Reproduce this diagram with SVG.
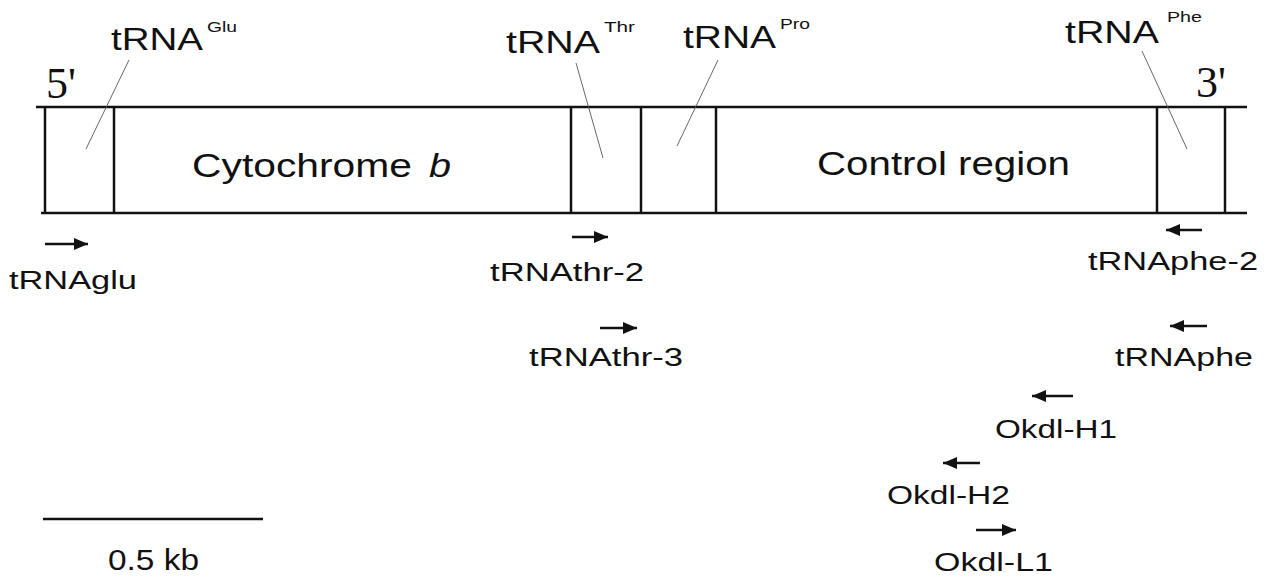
<svg xmlns="http://www.w3.org/2000/svg" width="1270" height="580" viewBox="0 0 1270 580">
<style>
.strand{stroke:#111;stroke-width:2.5;fill:none}
.div{stroke:#111;stroke-width:2.5}
.leader{stroke:#555;stroke-width:0.9;fill:none}
.prim{stroke:#111;stroke-width:2.5;fill:none;marker-end:url(#ah)}
.lab{font-family:"Liberation Sans",Arial,Helvetica,sans-serif;fill:#111}
.big{font-size:32px}
.sup{font-size:15px}
.gene{font-size:33px}
.pl{font-size:26px}
.end{font-family:"Liberation Serif","Times New Roman",serif;font-size:44px;fill:#111}
</style>
<defs>
<marker id="ah" markerUnits="userSpaceOnUse" markerWidth="16" markerHeight="14" refX="14" refY="6.5" orient="auto">
<path d="M0,0.5 L14,6.5 L0,12.5 Z" fill="#111"/>
</marker>
</defs>
<rect width="1270" height="580" fill="#fff"/>

<g id="strand">
<line class="strand" x1="36" y1="107" x2="1247" y2="107"/>
<line class="strand" x1="41" y1="213" x2="1247" y2="213"/>
<text class="end" x="46" y="98">5'</text>
<text class="end" x="1196" y="97">3'</text>
</g>

<g id="tRNA-Glu">
<line class="div" x1="45" y1="107" x2="45" y2="213"/>
<line class="div" x1="114" y1="107" x2="114" y2="213"/>
<text class="lab big" x="111" y="50" textLength="92" lengthAdjust="spacingAndGlyphs">tRNA</text>
<text class="lab sup" x="207" y="32" textLength="30" lengthAdjust="spacingAndGlyphs">Glu</text>
</g>

<g id="cytochrome-b">
<text class="lab gene" x="192" y="177" textLength="220" lengthAdjust="spacingAndGlyphs">Cytochrome</text>
<text class="lab gene" x="429" y="177" font-style="italic" textLength="22" lengthAdjust="spacingAndGlyphs">b</text>
</g>

<g id="tRNA-Thr">
<line class="div" x1="571" y1="107" x2="571" y2="213"/>
<line class="div" x1="641" y1="107" x2="641" y2="213"/>
<text class="lab big" x="506" y="53" textLength="94" lengthAdjust="spacingAndGlyphs">tRNA</text>
<text class="lab sup" x="604" y="32" textLength="31" lengthAdjust="spacingAndGlyphs">Thr</text>
</g>

<g id="tRNA-Pro">
<line class="div" x1="716" y1="107" x2="716" y2="213"/>
<text class="lab big" x="683" y="48" textLength="93" lengthAdjust="spacingAndGlyphs">tRNA</text>
<text class="lab sup" x="780" y="29" textLength="30" lengthAdjust="spacingAndGlyphs">Pro</text>
</g>

<g id="control-region">
<text class="lab gene" x="817" y="175" textLength="253" lengthAdjust="spacingAndGlyphs">Control region</text>
</g>

<g id="tRNA-Phe">
<line class="div" x1="1157" y1="107" x2="1157" y2="213"/>
<line class="div" x1="1225" y1="107" x2="1225" y2="213"/>
<text class="lab big" x="1065" y="43" textLength="94" lengthAdjust="spacingAndGlyphs">tRNA</text>
<text class="lab sup" x="1167" y="22" textLength="35" lengthAdjust="spacingAndGlyphs">Phe</text>
</g>

<g id="connectors">
<line class="leader" x1="129" y1="60" x2="86" y2="149"/>
<line class="leader" x1="576" y1="63" x2="603" y2="158"/>
<line class="leader" x1="718" y1="60" x2="677" y2="146"/>
<line class="leader" x1="1142" y1="51" x2="1187" y2="149"/>
</g>

<g id="primer-tRNAglu">
<line class="prim" x1="45" y1="244" x2="88" y2="244"/>
<text class="lab pl" x="9" y="289" textLength="128" lengthAdjust="spacingAndGlyphs">tRNAglu</text>
</g>
<g id="primer-tRNAthr-2">
<line class="prim" x1="572" y1="237" x2="608" y2="237"/>
<text class="lab pl" x="490" y="281" textLength="154" lengthAdjust="spacingAndGlyphs">tRNAthr-2</text>
</g>
<g id="primer-tRNAthr-3">
<line class="prim" x1="600" y1="328" x2="637" y2="328"/>
<text class="lab pl" x="529" y="366" textLength="154" lengthAdjust="spacingAndGlyphs">tRNAthr-3</text>
</g>
<g id="primer-tRNAphe-2">
<line class="prim" x1="1202" y1="230" x2="1166" y2="230"/>
<text class="lab pl" x="1088" y="270" textLength="170" lengthAdjust="spacingAndGlyphs">tRNAphe-2</text>
</g>
<g id="primer-tRNAphe">
<line class="prim" x1="1207" y1="326" x2="1170" y2="326"/>
<text class="lab pl" x="1115" y="366" textLength="138" lengthAdjust="spacingAndGlyphs">tRNAphe</text>
</g>
<g id="primer-Okdl-H1">
<line class="prim" x1="1073" y1="396" x2="1032" y2="396"/>
<text class="lab pl" x="995" y="438" textLength="122" lengthAdjust="spacingAndGlyphs">Okdl-H1</text>
</g>
<g id="primer-Okdl-H2">
<line class="prim" x1="980" y1="463" x2="943" y2="463"/>
<text class="lab pl" x="887" y="504" textLength="123" lengthAdjust="spacingAndGlyphs">Okdl-H2</text>
</g>
<g id="primer-Okdl-L1">
<line class="prim" x1="976" y1="530" x2="1016" y2="530"/>
<text class="lab pl" x="934" y="571" textLength="119" lengthAdjust="spacingAndGlyphs">Okdl-L1</text>
</g>

<g id="scale-bar">
<line class="strand" x1="43" y1="519" x2="263" y2="519"/>
<text class="lab" font-size="29" x="108" y="570" textLength="91" lengthAdjust="spacingAndGlyphs">0.5 kb</text>
</g>
</svg>
